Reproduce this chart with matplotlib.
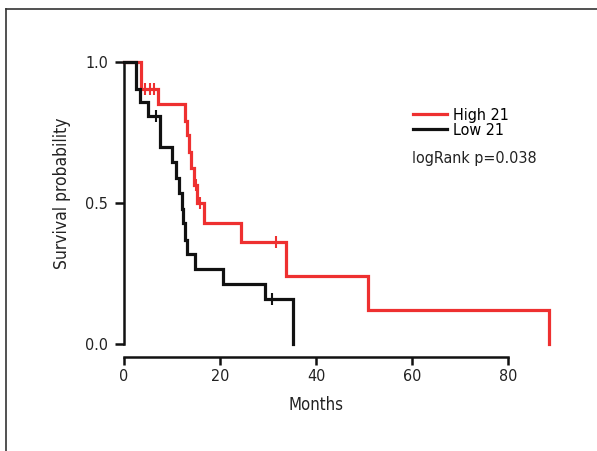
import matplotlib
matplotlib.use("Agg")
import matplotlib.pyplot as plt
from matplotlib.lines import Line2D
import numpy as np

# ---- data ----
high_times = [0, 3.5, 7.1, 12.7, 13.1, 13.5, 14.0, 14.6, 15.2, 16.6, 24.4, 33.8, 50.8, 88.5]
high_surv = [1.0, 0.905, 0.85, 0.79, 0.74, 0.68, 0.625, 0.565, 0.50, 0.43, 0.36, 0.24, 0.12, 0.0]
high_censor = [4.4, 5.4, 6.3, 15.0, 15.8, 31.7]

low_times = [0, 2.4, 2.6, 3.3, 5.0, 7.5, 10.0, 10.8, 11.5, 12.0, 12.3, 12.7, 13.1, 14.8, 20.6, 29.4, 35.2]
low_surv = [1.0, 0.95, 0.905, 0.857, 0.81, 0.70, 0.645, 0.59, 0.535, 0.48, 0.43, 0.37, 0.32, 0.265, 0.212, 0.16, 0.0]
low_censor = [6.6, 30.8]

x_ticks = [0, 20, 40, 60, 80]
y_ticks = [0.0, 0.5, 1.0]
y_ticklabels = ["0.0", "0.5", "1.0"]
legend_labels = ["High 21", "Low 21"]
stat_text = "logRank p=0.038"

RED = "#ee3030"
BLACK = "#111111"
TXT = "#222222"

plt.rcParams["font.family"] = ["DejaVu Sans"]
plt.rcParams["font.stretch"] = "condensed"
FS = 11.5

W, H = 597, 451
fig = plt.figure(figsize=(W / 100, H / 100), dpi=100)
x0_px, y0_px, y1_px = 124, 344, 62
xmax = 92
ax = fig.add_axes([x0_px / W, (H - y0_px) / H, xmax * 4.8 / W, (y0_px - y1_px) / H])
ax.set_xlim(0, xmax)
ax.set_ylim(0, 1)


def surv_at(times, surv, t):
    idx = np.searchsorted(times, t, side="right") - 1
    return surv[idx]


for times, surv, cens, col in [(high_times, high_surv, high_censor, RED),
                                (low_times, low_surv, low_censor, BLACK)]:
    ax.step(times, surv, where="post", color=col, lw=2.3, clip_on=False,
            solid_joinstyle="miter", zorder=3)
    cy = [surv_at(times, surv, t) for t in cens]
    ax.plot(cens, cy, ls="none", marker="|", ms=8, mew=1.5, color=col,
            clip_on=False, zorder=4)

for s in ["top", "right"]:
    ax.spines[s].set_visible(False)
ax.spines["left"].set_linewidth(1.8)
ax.spines["left"].set_color(BLACK)
ax.spines["bottom"].set_linewidth(1.8)
ax.spines["bottom"].set_color(BLACK)
ax.spines["bottom"].set_position(("outward", 9.4))
ax.spines["bottom"].set_bounds(0, 80)

ax.set_xticks(x_ticks)
ax.set_xticklabels([str(v) for v in x_ticks])
ax.set_yticks(y_ticks)
ax.set_yticklabels(y_ticklabels)
ax.tick_params(axis="both", length=5.5, width=1.8, color=BLACK, labelsize=FS,
               labelcolor=TXT, pad=3)
ax.tick_params(axis="y", length=6.5, pad=5)

fig.text(316 / W, 1 - 405 / H, "Months", ha="center", va="center", fontsize=FS + 0.5, color=TXT)
fig.text(62 / W, 1 - 193 / H, "Survival probability", ha="center", va="center",
         rotation=90, fontsize=FS + 1, color=TXT)

handles = [Line2D([], [], color=RED, lw=2.3), Line2D([], [], color=BLACK, lw=2.3)]
fig.legend(handles, legend_labels, loc="upper left", bbox_to_anchor=(413 / W, 1 - 108 / H),
           frameon=False, fontsize=FS, handlelength=2.15, handletextpad=0.35,
           labelspacing=0.0, borderpad=0, borderaxespad=0)
fig.text(412 / W, 1 - 158 / H, stat_text, ha="left", va="center", fontsize=FS, color=TXT)

# outer frame lines (top and left)
fig.add_artist(Line2D([6 / W, 6 / W], [0, 1 - 9 / H], transform=fig.transFigure,
                      color="#333333", lw=1.2))
fig.add_artist(Line2D([6 / W, 1], [1 - 9 / H, 1 - 9 / H], transform=fig.transFigure,
                      color="#333333", lw=1.2))

fig.savefig("out.png", dpi=100)
